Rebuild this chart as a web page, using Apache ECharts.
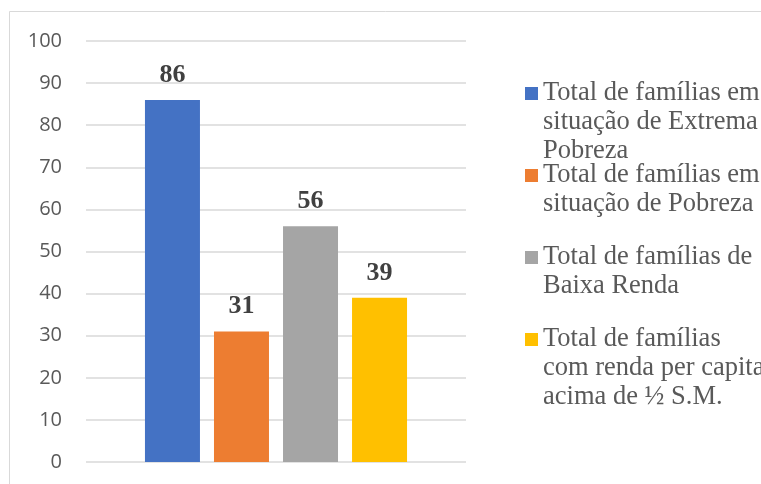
<!DOCTYPE html>
<html>
<head>
<meta charset="utf-8">
<script src="https://cdn.jsdelivr.net/npm/echarts@6/dist/echarts.min.js"></script>
<style>
  html, body { margin: 0; padding: 0; background: #fff; }
  #main { width: 761px; height: 484px; }
</style>
</head>
<body>
<div id="main"></div>
<script>
(function (echarts) {
  'use strict';

  // série (uma barra por série)
  var seriesNames = [
    'Total de famílias em situação de Extrema Pobreza',
    'Total de famílias em situação de Pobreza',
    'Total de famílias de Baixa Renda',
    'Total de famílias com renda per capita acima de ½ S.M.'
  ];
  // quebras de linha como aparecem na legenda
  var legendLines = [
    ['Total de famílias em', 'situação de Extrema', 'Pobreza'],
    ['Total de famílias em', 'situação de Pobreza'],
    ['Total de famílias de', 'Baixa Renda'],
    ['Total de famílias', 'com renda per capita', 'acima de ½ S.M.']
  ];
  var values = [86, 31, 56, 39];
  var colors = ['#4472C4', '#ED7D31', '#A5A5A5', '#FFC000'];
  var categories = [''];

  var LH = 29;

  // o ícone fica alinhado com a primeira linha: linhas vazias em cima
  // deixam o bloco de texto centrado nessa primeira linha
  var legends = seriesNames.map(function (name, i) {
    var n = legendLines[i].length;
    var center = 93.5 + i * 82;
    var text = new Array(n).join('\n') + legendLines[i].join('\n');
    return {
      data: [name],
      left: 525,
      top: center - (2 * n - 1) * LH / 2,
      padding: 0,
      orient: 'vertical',
      icon: 'rect',
      itemWidth: 13,
      itemHeight: 13,
      selectedMode: false,
      formatter: function () { return text; },
      textStyle: {
        fontFamily: 'Liberation Serif',
        fontSize: 26.5,
        lineHeight: LH,
        color: '#595959'
      }
    };
  });

  var series = seriesNames.map(function (name, i) {
    return {
      name: name,
      type: 'bar',
      data: [values[i]],
      barWidth: 55,
      barGap: '25.5%',
      itemStyle: {color: colors[i]},
      label: {
        show: true,
        position: 'top',
        distance: 12,
        fontFamily: 'Liberation Serif',
        fontWeight: 'bold',
        fontSize: 26,
        color: '#404040'
      }
    };
  });

  echarts.init(document.getElementById('main')).setOption({
    animation: false,
    backgroundColor: '#fff',
    graphic: [{
      type: 'rect',
      shape: {x: 9.5, y: 11.5, width: 800, height: 500},
      style: {fill: 'none', stroke: '#d9d9d9', lineWidth: 1},
      silent: true
    }],
    legend: legends,
    grid: {left: 86, right: 295, top: 41, bottom: 22},
    xAxis: {
      type: 'category',
      data: categories,
      axisLine: {show: false},
      axisTick: {show: false},
      axisLabel: {show: false}
    },
    yAxis: {
      type: 'value',
      min: 0,
      max: 100,
      interval: 10,
      axisLine: {show: false},
      axisTick: {show: false},
      axisLabel: {
        margin: 24,
        fontFamily: 'Open Sans',
        fontSize: 20,
        color: '#595959'
      },
      splitLine: {lineStyle: {color: '#d9d9d9', width: 1.5}}
    },
    series: series
  });
})(window.echarts);
</script>
</body>
</html>
